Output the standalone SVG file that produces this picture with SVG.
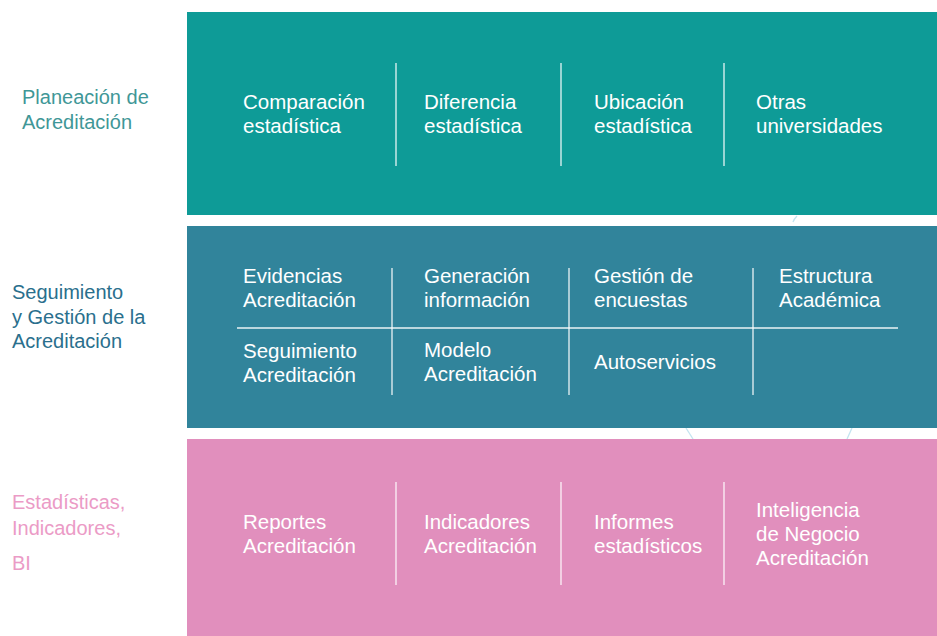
<svg xmlns="http://www.w3.org/2000/svg" width="937" height="636" viewBox="0 0 937 636">
<style>
.band-t{fill:#0e9b97}
.band-m{fill:#31849b}
.band-b{fill:#e18fbd}
.div{stroke:#ffffff;stroke-width:1.3;opacity:0.9}
.cell{font-family:"Liberation Sans","Open Sans",sans-serif;font-size:20.5px;fill:#ffffff}
.lbl{font-family:"Liberation Sans","Open Sans",sans-serif;font-size:20px}
.faint{stroke:#a9d8ea;stroke-width:1.3;fill:none;opacity:0.7}
</style>
<rect width="937" height="636" fill="#ffffff"/>
<g id="artifacts">
<line class="faint" x1="686" y1="428" x2="693" y2="439"/>
<line class="faint" x1="852" y1="428" x2="847" y2="439"/>
<path class="faint" d="M797 216 Q794 219 793 222" opacity="0.35"/>
</g>
<g id="label-planeacion">
<text class="lbl" fill="#3f9797" x="22" y="104">Planeación de</text>
<text class="lbl" fill="#3f9797" x="22" y="129">Acreditación</text>
</g>
<g id="label-seguimiento">
<text class="lbl" fill="#2a6f8d" x="12" y="299">Seguimiento</text>
<text class="lbl" fill="#2a6f8d" x="12" y="324">y Gestión de la</text>
<text class="lbl" fill="#2a6f8d" x="12" y="348">Acreditación</text>
</g>
<g id="label-estadisticas">
<text class="lbl" fill="#eb9bc6" x="12" y="509">Estadísticas,</text>
<text class="lbl" fill="#eb9bc6" x="12" y="535">Indicadores,</text>
<text class="lbl" fill="#eb9bc6" x="12" y="570">BI</text>
</g>
<g id="band-planeacion">
<rect class="band-t" x="187" y="12" width="750" height="203"/>
<line class="div" x1="396" y1="63" x2="396" y2="166"/>
<line class="div" x1="561" y1="63" x2="561" y2="166"/>
<line class="div" x1="724" y1="63" x2="724" y2="166"/>
<text class="cell" x="243" y="109">Comparación</text>
<text class="cell" x="243" y="133">estadística</text>
<text class="cell" x="424" y="109">Diferencia</text>
<text class="cell" x="424" y="133">estadística</text>
<text class="cell" x="594" y="109">Ubicación</text>
<text class="cell" x="594" y="133">estadística</text>
<text class="cell" x="756" y="109">Otras</text>
<text class="cell" x="756" y="133">universidades</text>
</g>
<g id="band-seguimiento">
<rect class="band-m" x="187" y="226" width="750" height="202"/>
<line class="div" x1="392" y1="268" x2="392" y2="395"/>
<line class="div" x1="569" y1="268" x2="569" y2="395"/>
<line class="div" x1="753" y1="268" x2="753" y2="395"/>
<line class="div" x1="237" y1="328" x2="898" y2="328"/>
<text class="cell" x="243" y="283">Evidencias</text>
<text class="cell" x="243" y="307">Acreditación</text>
<text class="cell" x="424" y="283">Generación</text>
<text class="cell" x="424" y="307">información</text>
<text class="cell" x="594" y="283">Gestión de</text>
<text class="cell" x="594" y="307">encuestas</text>
<text class="cell" x="779" y="283">Estructura</text>
<text class="cell" x="779" y="307">Académica</text>
<text class="cell" x="243" y="358">Seguimiento</text>
<text class="cell" x="243" y="382">Acreditación</text>
<text class="cell" x="424" y="357">Modelo</text>
<text class="cell" x="424" y="381">Acreditación</text>
<text class="cell" x="594" y="369">Autoservicios</text>
</g>
<g id="band-estadisticas">
<rect class="band-b" x="187" y="439" width="750" height="197"/>
<line class="div" x1="396" y1="482" x2="396" y2="585"/>
<line class="div" x1="561" y1="482" x2="561" y2="585"/>
<line class="div" x1="724" y1="482" x2="724" y2="585"/>
<text class="cell" x="243" y="529">Reportes</text>
<text class="cell" x="243" y="553">Acreditación</text>
<text class="cell" x="424" y="529">Indicadores</text>
<text class="cell" x="424" y="553">Acreditación</text>
<text class="cell" x="594" y="529">Informes</text>
<text class="cell" x="594" y="553">estadísticos</text>
<text class="cell" x="756" y="517">Inteligencia</text>
<text class="cell" x="756" y="541">de Negocio</text>
<text class="cell" x="756" y="565">Acreditación</text>
</g>
</svg>
